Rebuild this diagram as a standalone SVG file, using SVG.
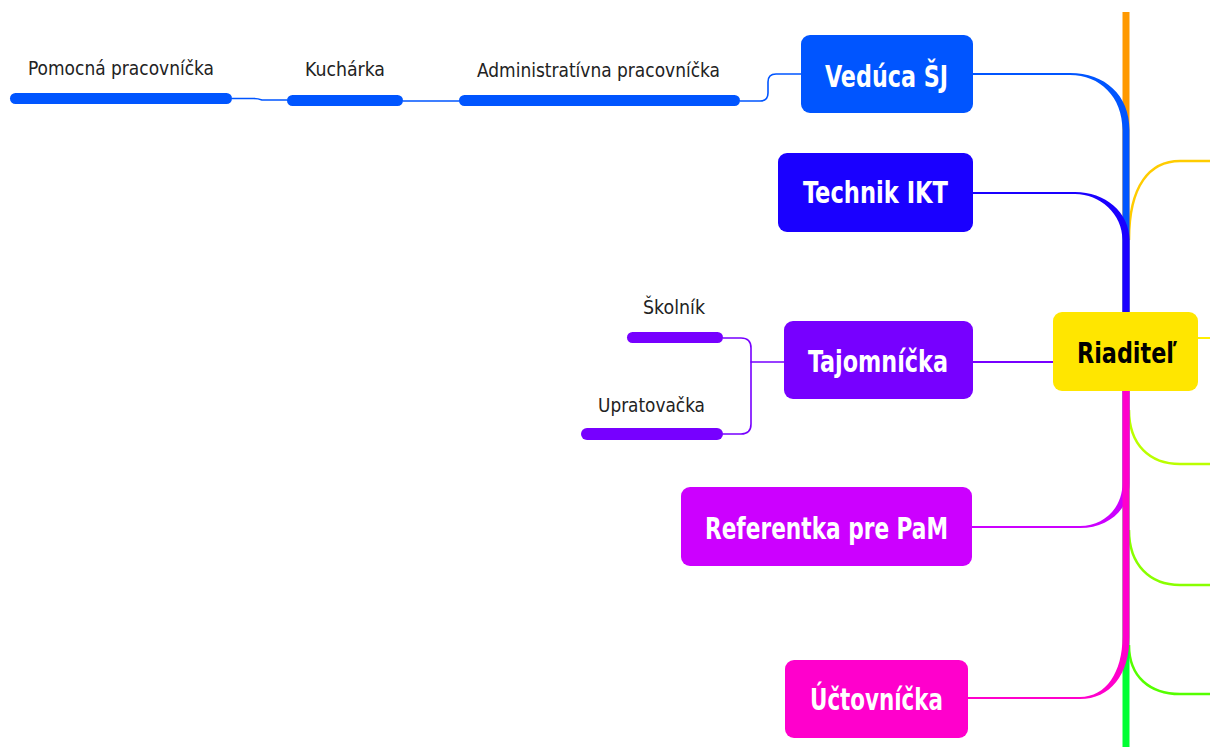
<svg xmlns="http://www.w3.org/2000/svg" width="1210" height="747" viewBox="0 0 1210 747">
<style>
.t{font-family:"DejaVu Sans Condensed","DejaVu Sans",sans-serif;font-weight:bold;font-size:30px;fill:#ffffff}
.lab{font-family:"DejaVu Sans Condensed","DejaVu Sans",sans-serif;font-size:20px;fill:#222222}
.thin{fill:none;stroke-width:1.6;stroke-linecap:round;stroke-linejoin:round}
.rb{fill:none;stroke-width:2.5}
</style>
<rect width="1210" height="747" fill="#ffffff"/>
<g id="connectors">
  <path class="rb" stroke="#ffcc00" d="M1129,240 C1129,185 1150,161 1180,161 L1212,161"/>
  <path class="rb" stroke="#bbff00" d="M1129,410 C1129,445 1150,464 1180,464 L1212,464"/>
  <path class="rb" stroke="#88ff00" d="M1129,530 C1129,565 1150,585 1180,585 L1212,585"/>
  <path class="rb" stroke="#55ff00" d="M1129,645 C1129,677 1150,694 1180,694 L1212,694"/>
  <line x1="1197" y1="338" x2="1212" y2="338" stroke="#ffee00" stroke-width="2"/>
  <rect x="1122.5" y="12" width="7" height="300" fill="#ff9900"/>
  <rect x="1122.5" y="390" width="7" height="357" fill="#00ff33"/>
  <path fill="#0055ff" d="M1129.5,312 L1129.5,130 C1129.5,95 1105,73 1070,73 L973,73 L973,75 L1070,75 C1100,75 1122.5,97 1122.5,130 L1122.5,312 Z"/>
  <path fill="#1a00ff" d="M1129.5,312 L1129.5,240 C1129.5,212 1105,192 1075,192 L973,192 L973,194 L1075,194 C1100,194 1122.5,214 1122.5,240 L1122.5,312 Z"/>
  <path fill="#cc00ff" d="M1129.5,390 L1129.5,483 C1129.5,510 1108,528 1080,528 L972,528 L972,526 L1080,526 C1104,526 1122.5,508 1122.5,483 L1122.5,390 Z"/>
  <path fill="#ff00cc" d="M1129.5,390 L1129.5,637 C1129.5,675 1110,699 1080,699 L968,699 L968,697 L1080,697 C1106,697 1122.5,672 1122.5,637 L1122.5,390 Z"/>
  <line x1="973" y1="362" x2="1053" y2="362" stroke="#7700ff" stroke-width="2"/>
  <path class="thin" stroke="#0055ff" d="M801,74 L776,74 Q768,74 768,82 L768,93 Q768,101 760,101 L740,101"/>
  <path class="thin" stroke="#0055ff" d="M459,101 L403,101"/>
  <path class="thin" stroke="#0055ff" d="M287,100 L262,100 Q258,98.5 254,98.5 L232,98.5"/>
  <path class="thin" stroke="#7700ff" d="M784,362 L751,362"/>
  <path class="thin" stroke="#7700ff" d="M723,338 L741,338 Q751,338 751,348 L751,424 Q751,434 741,434 L723,434"/>
</g>
<g id="riaditel">
  <rect x="1053" y="312" width="145" height="79" rx="9" fill="#ffe600"/>
  <text x="1077" y="363" class="t" style="fill:#000000;font-size:28px" textLength="100" lengthAdjust="spacingAndGlyphs">Riaditeľ</text>
</g>
<g id="veduca">
  <rect x="801" y="35" width="172" height="78" rx="9" fill="#0055ff"/>
  <text x="825" y="87" class="t" textLength="123" lengthAdjust="spacingAndGlyphs">Vedúca ŠJ</text>
</g>
<g id="technik">
  <rect x="778" y="153" width="195" height="79" rx="9" fill="#1a00ff"/>
  <text x="803" y="203" class="t" textLength="145" lengthAdjust="spacingAndGlyphs">Technik IKT</text>
</g>
<g id="tajomnicka">
  <rect x="784" y="321" width="189" height="78" rx="9" fill="#7700ff"/>
  <text x="808" y="372" class="t" textLength="140" lengthAdjust="spacingAndGlyphs">Tajomníčka</text>
</g>
<g id="referentka">
  <rect x="681" y="487" width="291" height="79" rx="9" fill="#cc00ff"/>
  <text x="705" y="539" class="t" textLength="243" lengthAdjust="spacingAndGlyphs">Referentka pre PaM</text>
</g>
<g id="uctovnicka">
  <rect x="785" y="660" width="183" height="78" rx="9" fill="#ff00cc"/>
  <text x="810" y="710" class="t" textLength="133" lengthAdjust="spacingAndGlyphs">Účtovníčka</text>
</g>
<g id="pomocna">
  <rect x="10" y="93" width="222" height="11" rx="5.5" fill="#0055ff"/>
  <text x="28" y="75" class="lab" textLength="186" lengthAdjust="spacingAndGlyphs">Pomocná pracovníčka</text>
</g>
<g id="kucharka">
  <rect x="287" y="95" width="116" height="11" rx="5.5" fill="#0055ff"/>
  <text x="305" y="76" class="lab" textLength="80" lengthAdjust="spacingAndGlyphs">Kuchárka</text>
</g>
<g id="administrativna">
  <rect x="459" y="95" width="281" height="11" rx="5.5" fill="#0055ff"/>
  <text x="477" y="77" class="lab" textLength="243" lengthAdjust="spacingAndGlyphs">Administratívna pracovníčka</text>
</g>
<g id="skolnik">
  <rect x="627" y="332" width="96" height="11" rx="5.5" fill="#7700ff"/>
  <text x="643" y="314" class="lab" textLength="62" lengthAdjust="spacingAndGlyphs">Školník</text>
</g>
<g id="upratovacka">
  <rect x="581" y="428" width="142" height="12" rx="6" fill="#7700ff"/>
  <text x="598" y="412" class="lab" textLength="107" lengthAdjust="spacingAndGlyphs">Upratovačka</text>
</g>
</svg>
